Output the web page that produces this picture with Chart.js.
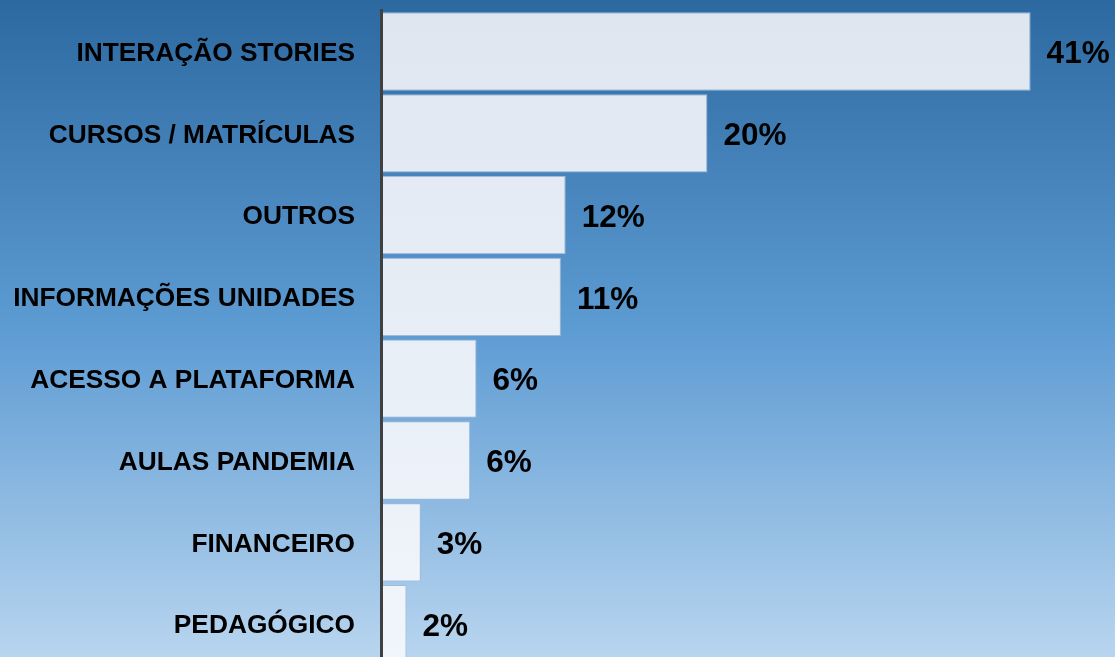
<!DOCTYPE html>
<html>
<head>
<meta charset="utf-8">
<script src="https://cdn.jsdelivr.net/npm/chart.js@4.4.1/dist/chart.umd.min.js"></script>
<style>
html,body{margin:0;padding:0;overflow:hidden;width:1115px;height:657px;background:#5d9bd3;}
#wrap{position:relative;width:1115px;height:665px;}
</style>
</head>
<body>
<div id="wrap"><canvas id="c"></canvas></div>
<script>
const categories = ["INTERAÇÃO STORIES","CURSOS / MATRÍCULAS","OUTROS","INFORMAÇÕES UNIDADES","ACESSO A PLATAFORMA","AULAS PANDEMIA","FINANCEIRO","PEDAGÓGICO"];
const values = [40.8, 20.5, 11.6, 11.3, 6.0, 5.6, 2.5, 1.6];
const valueLabels = ["41%","20%","12%","11%","6%","6%","3%","2%"];

const bgPlugin = {
  id: 'bg',
  beforeDraw(chart) {
    const ctx = chart.ctx;
    const g = ctx.createLinearGradient(0, 0, 0, 657);
    g.addColorStop(0, '#2d69a1');
    g.addColorStop(0.5, '#5d9bd3');
    g.addColorStop(1, '#b8d5ef');
    ctx.save();
    ctx.fillStyle = g;
    ctx.fillRect(0, 0, chart.width, chart.height);
    ctx.restore();
  }
};

const labelPlugin = {
  id: 'valLabels',
  afterDatasetsDraw(chart) {
    const ctx = chart.ctx;
    const meta = chart.getDatasetMeta(0);
    ctx.save();
    ctx.font = 'bold 31.5px "Liberation Sans", Arial, sans-serif';
    ctx.fillStyle = '#000';
    ctx.textAlign = 'left';
    ctx.textBaseline = 'middle';
    meta.data.forEach((bar, i) => {
      ctx.fillText(valueLabels[i], bar.x + 16, bar.y + 3);
    });
    ctx.restore();
  }
};

new Chart(document.getElementById('c'), {
  type: 'bar',
  data: {
    labels: categories,
    datasets: [{
      data: values,
      backgroundColor: (c) => {
        const area = c.chart.chartArea;
        if (!area) return '#e6edf6';
        const g = c.chart.ctx.createLinearGradient(0, area.top, 0, area.bottom);
        g.addColorStop(0, '#dfe6f0');
        g.addColorStop(1, '#f1f6fc');
        return g;
      },
      borderColor: 'rgba(160,185,215,1)',
      borderWidth: 1,
      borderSkipped: false,
      categoryPercentage: 1,
      barPercentage: 0.957
    }]
  },
  options: {
    indexAxis: 'y',
    responsive: true,
    maintainAspectRatio: false,
    animation: false,
    layout: { padding: { top: 10.6, bottom: 0, left: 0, right: 0 } },
    plugins: { legend: { display: false }, tooltip: { enabled: false } },
    scales: {
      x: {
        display: false,
        min: 0,
        max: 46.1
      },
      y: {
        afterFit(scale) { scale.width = 381; scale.paddingTop = 0; scale.paddingBottom = 0; },
        grid: { display: false, drawTicks: false },
        border: { display: true, color: '#404040', width: 3, z: 1 },
        ticks: {
          autoSkip: false,
          padding: 26,
          labelOffset: 2,
          color: '#000',
          font: { family: '"Liberation Sans", Arial, sans-serif', size: 26.3, weight: 'bold' }
        }
      }
    }
  },
  plugins: [bgPlugin, labelPlugin]
});
</script>
</body>
</html>
